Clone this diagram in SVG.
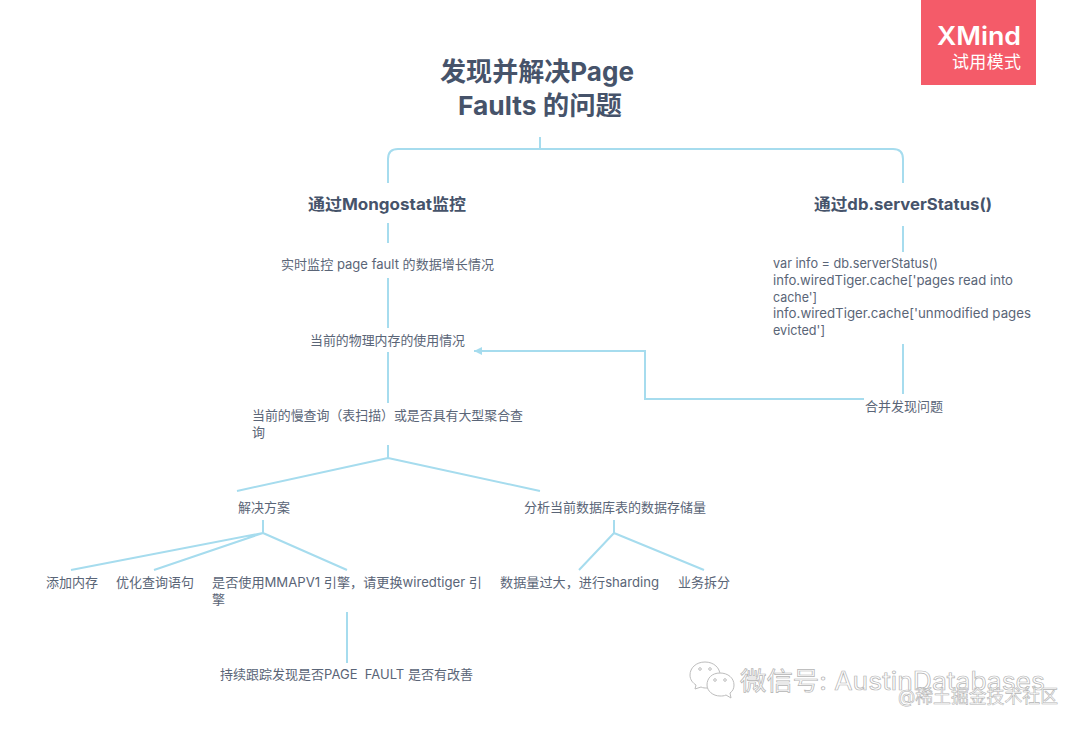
<svg xmlns="http://www.w3.org/2000/svg" width="1080" height="729" viewBox="0 0 1080 729">
<style>
text{font-family:"Inter","Noto Sans CJK SC",sans-serif;fill:#5a6577;font-size:13px}
.t{font-size:26px;font-weight:700;fill:#46536a}
.h{font-size:16px;font-weight:700;fill:#46536a}
.c{fill:none;stroke:#a6dcee;stroke-width:2}
.wm{fill:#fff;stroke:#b4b4b4;stroke-width:.7;font-size:25px}
.wm2{fill:#fff;stroke:#b4b4b4;stroke-width:.6;font-size:18px}
</style>
<defs><marker id="a" markerWidth="9" markerHeight="8" refX="8" refY="4" orient="auto" markerUnits="userSpaceOnUse"><path d="M8 4L0 0V8Z" fill="#a6dcee"/></marker></defs>
<rect width="1080" height="729" fill="#fff"/>
<g id="connectors">
<path class="c" d="M540 137V149M388 183V159Q388 149 398 149H893Q903 149 903 159V183"/>
<path class="c" d="M388 223V243M388 278V328M388 352V403M388 445V458M388 458L237 491M388 458L540 491"/>
<path class="c" d="M903 226V252M903 344V394"/>
<path class="c" marker-end="url(#a)" d="M864 399H645V351H474"/>
<path class="c" d="M263 520V533M263 533L71 570M263 533L154 570M263 533L347 570M347 612V663"/>
<path class="c" d="M614 520V533M614 533L579 570M614 533L704 570"/>
</g>
<g id="xmind"><rect x="921" y="0" width="115" height="85" fill="#f45b69"/><text x="937" y="45" textLength="84" lengthAdjust="spacingAndGlyphs" style="font-size:25px;font-weight:600;fill:#fff">XMind</text><text x="952" y="68" textLength="69" style="font-size:17px;fill:#fff">试用模式</text></g>
<g id="root"><text class="t" x="440" y="81" textLength="194" lengthAdjust="spacingAndGlyphs">发现并解决Page</text><text class="t" x="458" y="115" textLength="164" lengthAdjust="spacingAndGlyphs">Faults 的问题</text></g>
<g id="n1"><text class="h" x="308" y="210" textLength="158" lengthAdjust="spacingAndGlyphs">通过Mongostat监控</text></g>
<g id="n2"><text class="h" x="814" y="210" textLength="178" lengthAdjust="spacingAndGlyphs">通过db.serverStatus()</text></g>
<g id="n3"><text x="281" y="268.5" textLength="213" lengthAdjust="spacingAndGlyphs">实时监控 page fault 的数据增长情况</text></g>
<g id="n4"><text x="310" y="344.5" textLength="155" lengthAdjust="spacingAndGlyphs">当前的物理内存的使用情况</text></g>
<g id="n5"><text x="252" y="420" textLength="271" lengthAdjust="spacingAndGlyphs">当前的慢查询（表扫描）或是否具有大型聚合查</text><text x="252" y="437">询</text></g>
<g id="n6"><text x="773" y="268" textLength="165" lengthAdjust="spacingAndGlyphs">var info = db.serverStatus()</text><text x="773" y="285" textLength="240" lengthAdjust="spacingAndGlyphs">info.wiredTiger.cache['pages read into</text><text x="773" y="302" textLength="44" lengthAdjust="spacingAndGlyphs">cache']</text><text x="773" y="318" textLength="258" lengthAdjust="spacingAndGlyphs">info.wiredTiger.cache['unmodified pages</text><text x="773" y="335" textLength="52" lengthAdjust="spacingAndGlyphs">evicted']</text></g>
<g id="n7"><text x="865" y="410.5">合并发现问题</text></g>
<g id="n8"><text x="238" y="512">解决方案</text></g>
<g id="n9"><text x="524" y="512">分析当前数据库表的数据存储量</text></g>
<g id="n10"><text x="46" y="587">添加内存</text></g>
<g id="n11"><text x="116" y="587">优化查询语句</text></g>
<g id="n12"><text x="212" y="587" textLength="270" lengthAdjust="spacingAndGlyphs">是否使用MMAPV1 引擎，请更换wiredtiger 引</text><text x="212" y="604">擎</text></g>
<g id="n13"><text x="500" y="587" textLength="159" lengthAdjust="spacingAndGlyphs">数据量过大，进行sharding</text></g>
<g id="n14"><text x="678" y="587">业务拆分</text></g>
<g id="n15"><text x="220" y="679" textLength="253" lengthAdjust="spacingAndGlyphs" xml:space="preserve">持续跟踪发现是否PAGE  FAULT 是否有改善</text></g>
<g id="watermark"><text class="wm" x="740" y="690" textLength="305" lengthAdjust="spacingAndGlyphs">微信号: AustinDatabases</text><text class="wm2" x="898" y="703" textLength="160" lengthAdjust="spacingAndGlyphs">@稀土掘金技术社区</text>
<g fill="#fff" stroke="#bdbdbd" stroke-width="1"><path d="M705 662C696 662 690 668 690 675C690 680 693 683 696 685L695 689L701 687C703 688 705 688 707 688C716 688 720 682 720 675C720 668 714 662 705 662Z"/><path d="M720 673C712 673 707 678 707 685C707 691 713 696 720 696C722 696 724 696 726 695L731 698L730 693C733 691 734 688 734 685C734 678 728 673 720 673Z"/><circle cx="700" cy="669" r="1.3"/><circle cx="710" cy="669" r="1.3"/><circle cx="715" cy="680" r="1.3"/><circle cx="725" cy="680" r="1.3"/></g></g>
</svg>
